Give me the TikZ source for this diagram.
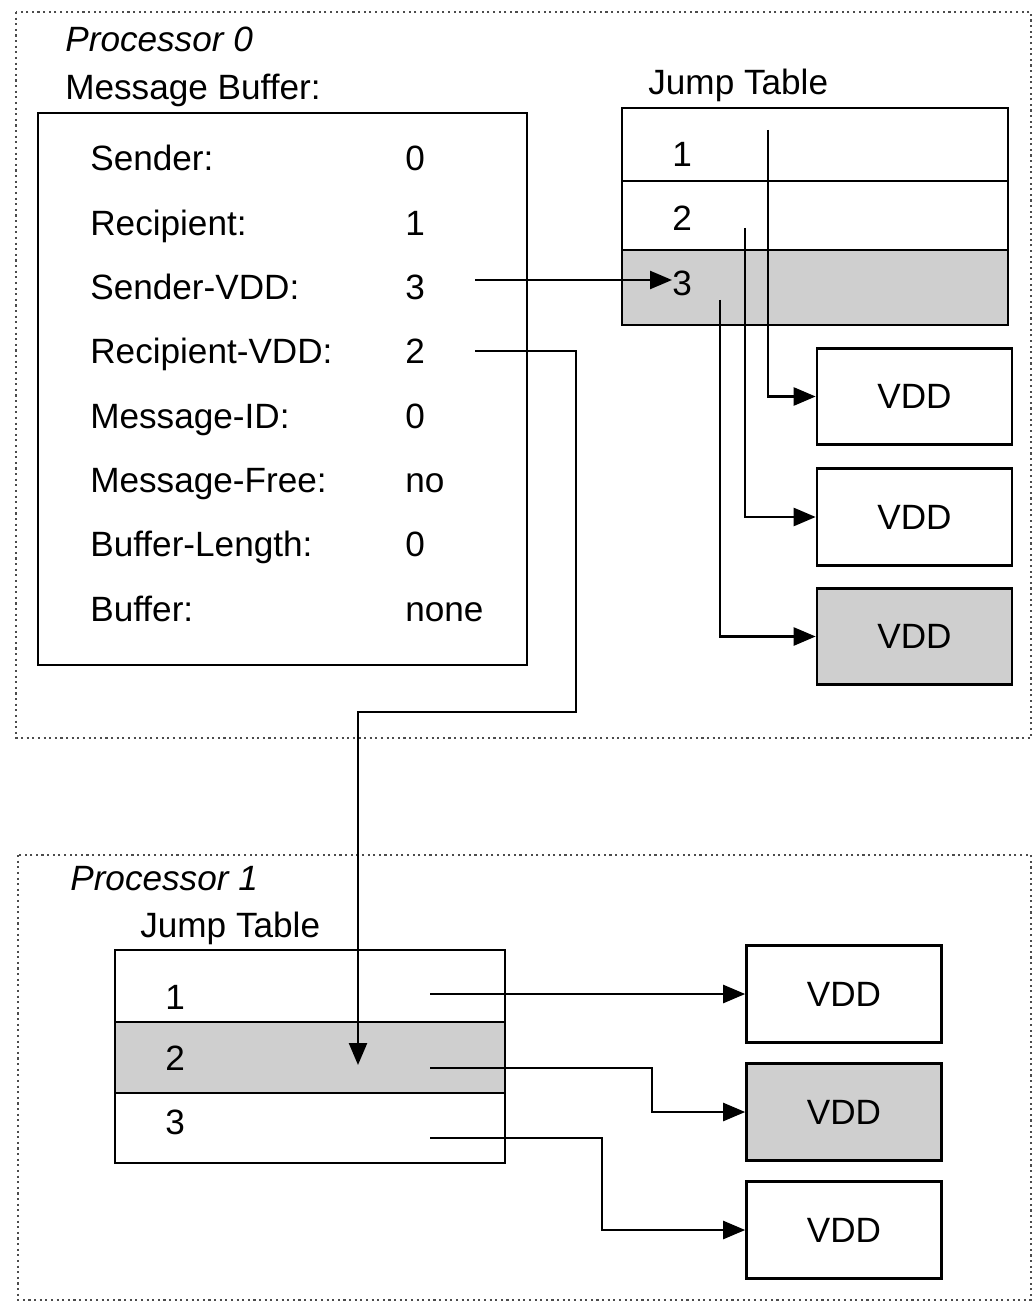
\documentclass[tikz,border=0pt]{standalone}
\usepackage{fontspec}
\setmainfont{Liberation Sans}
\usetikzlibrary{arrows.meta}
\begin{document}
\begin{tikzpicture}[x=0.2mm, y=-0.2mm, >={Triangle[length=4.4mm,width=3.6mm]},
    txt/.style={anchor=base west, inner sep=0pt, font=\fontsize{20}{24}\selectfont},
    vdd/.style={draw, line width=1.5pt, minimum width=39mm, minimum height=19.3mm, inner sep=0pt, font=\fontsize{20}{24}\selectfont},
    link/.style={->, line width=1.4pt},
    frame/.style={dotted, line width=1.2pt, gray!60!black},
    shade/.style={fill=gray!38}]
    \useasboundingbox (0,0) rectangle (1034,1304);

    % Processor 0
    \draw[frame] (16,12) rectangle (1031,738);
    \node[txt, font=\fontsize{20}{24}\selectfont\itshape] (p0) at (65,52) {Processor 0};
    \node[txt] (mb) at (65,100) {Message Buffer:};
    \draw[line width=1.5pt] (38,113) rectangle (527,665);
    \foreach \name/\val [count=\i from 0] in {Sender/0, Recipient/1, Sender-VDD/3, Recipient-VDD/2,
        Message-ID/0, Message-Free/no, Buffer-Length/0, Buffer/none} {
        \node[txt] (f\i) at (90,171+64.3*\i) {\name:};
        \node[txt] (v\i) at (405,171+64.3*\i) {\val};
    }

    \node[txt] (jt0) at (648,95) {Jump Table};
    \fill[shade] (622,250) rectangle (1008,325);
    \draw[line width=1.5pt] (622,108) rectangle (1008,325) (622,181) -- (1008,181) (622,250) -- (1008,250);
    \foreach \n/\y in {1/167, 2/231, 3/296}
        \node[txt] (a\n) at (672,\y) {\n};

    \node[vdd] (d1) at (914.5,396.5) {VDD};
    \node[vdd] (d2) at (914.5,517) {VDD};
    \node[vdd, shade] (d3) at (914.5,636.5) {VDD};

    \coordinate (c1) at (768,130);
    \coordinate (c2) at (745,228);
    \coordinate (c3) at (720,300);
    \draw[link] (c1) |- (d1.west);
    \draw[link] (c2) |- (d2.west);
    \draw[link] (c3) |- (d3.west);

    \coordinate (s0) at (475,280);
    \draw[link] (s0) -- (s0 -| a3.west);

    % Processor 1
    \draw[frame] (18,855) rectangle (1031,1300);
    \node[txt, font=\fontsize{20}{24}\selectfont\itshape] (p1) at (70,890) {Processor 1};
    \node[txt] (jt1) at (140,937) {Jump Table};
    \fill[shade] (115,1022) rectangle (505,1093);
    \draw[line width=1.5pt] (115,950) rectangle (505,1163) (115,1022) -- (505,1022) (115,1093) -- (505,1093);
    \foreach \n/\y in {1/1009, 2/1070, 3/1134}
        \node[txt] (b\n) at (165,\y) {\n};

    \node[vdd] (e1) at (844,994) {VDD};
    \node[vdd, shade] (e2) at (844,1112) {VDD};
    \node[vdd] (e3) at (844,1230) {VDD};

    \coordinate (t1) at (430,994);
    \coordinate (t2) at (430,1068);
    \coordinate (t3) at (430,1138);
    \draw[link] (t1) -- (e1.west);
    \draw[link] (t2) -- (652,1068) |- (e2.west);
    \draw[link] (t3) -- (602,1138) |- (e3.west);

    \coordinate (r0) at (475,351);
    \coordinate (r1) at (358,1065);
    \draw[link] (r0) -| (576,712) -| (r1);
\end{tikzpicture}
\end{document}
